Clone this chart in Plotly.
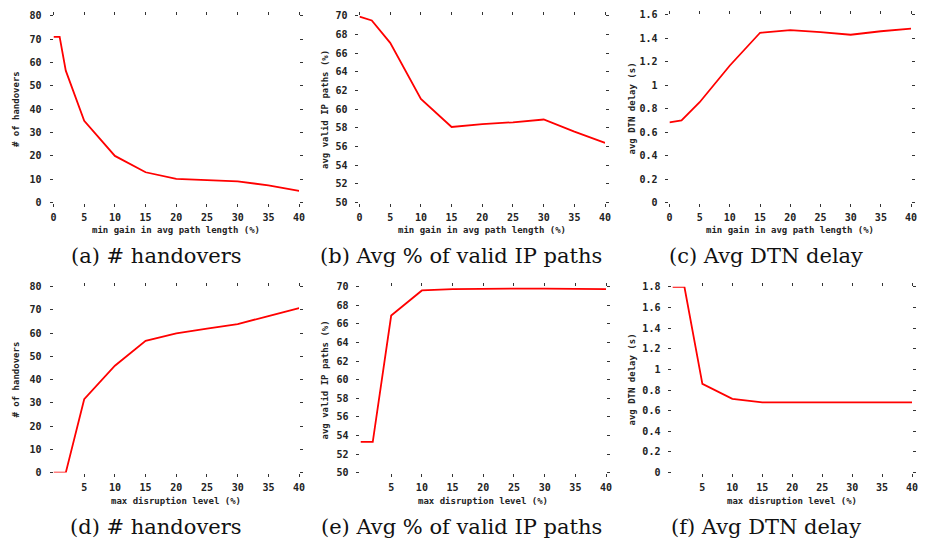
import plotly.graph_objects as go

# ---- data ----
x_gain = [0, 1, 2, 5, 10, 15, 20, 25, 30, 35, 40]
handovers_gain = [71, 71, 56.5, 35, 20, 13, 10.2, 9.5, 9.1, 7.4, 5]

x_gain_b = [0, 2, 5, 10, 15, 20, 25, 30, 35, 40]
valid_ip_gain = [69.9, 69.5, 67.1, 61.1, 58.1, 58.4, 58.6, 58.9, 57.6, 56.4]
dtn_delay_gain = [0.684, 0.70, 0.855, 1.168, 1.447, 1.47, 1.452, 1.43, 1.46, 1.483]

x_disr = [0, 2, 5, 10, 15, 20, 25, 30, 35, 40]
handovers_disr = [0, 0, 31.6, 46, 56.7, 59.9, 62, 63.9, 67.4, 70.8]
valid_ip_disr = [53.3, 53.3, 66.9, 69.6, 69.75, 69.8, 69.8, 69.8, 69.8, 69.75]
dtn_delay_disr = [1.8, 1.8, 0.859, 0.714, 0.68, 0.68, 0.68, 0.68, 0.68, 0.68]

xticks_top = [0, 5, 10, 15, 20, 25, 30, 35, 40]
xticks_bottom = [5, 10, 15, 20, 25, 30, 35, 40]

yt_hand = [0, 10, 20, 30, 40, 50, 60, 70, 80]
yt_ip = [50, 52, 54, 56, 58, 60, 62, 64, 66, 68, 70]
yt_dtn_top = [0, 0.2, 0.4, 0.6, 0.8, 1, 1.2, 1.4, 1.6]
yt_dtn_bot = [0, 0.2, 0.4, 0.6, 0.8, 1, 1.2, 1.4, 1.6, 1.8]

xtitle_top = "min gain in avg path length (%)"
xtitle_bot = "max disruption level (%)"
ytitles = ["# of handovers", "avg valid IP paths (%)", "avg DTN delay (s)"]
captions = ["(a) # handovers", "(b) Avg % of valid IP paths", "(c) Avg DTN delay",
            "(d) # handovers", "(e) Avg % of valid IP paths", "(f) Avg DTN delay"]

W, H = 925, 551

def px(x):
    return x / W

def py(y):
    return 1 - y / H

# pixel boxes: (x0, x1, ytop, ybottom)
boxes = [
    (51, 299, 10, 201),
    (360, 608, 10, 201),
    (673, 917, 9, 201),
    (51, 299, 287, 477),
    (361, 609, 287, 477),
    (676, 918, 287, 477),
]
series = [
    (x_gain, handovers_gain, yt_hand, [0, 80], xticks_top),
    (x_gain_b, valid_ip_gain, yt_ip, [50, 70], xticks_top),
    (x_gain_b, dtn_delay_gain, yt_dtn_top, [0, 1.6], xticks_top),
    (x_disr, handovers_disr, yt_hand, [0, 80], xticks_bottom),
    (x_disr, valid_ip_disr, yt_ip, [50, 70], xticks_bottom),
    (x_disr, dtn_delay_disr, yt_dtn_bot, [0, 1.8], xticks_bottom),
]

tickfont = dict(family="DejaVu Sans Mono", size=10, color="#222222", weight="bold")
titlefont = dict(family="DejaVu Sans Mono", size=9, color="#222222", weight="bold")
capfont = dict(family="DejaVu Serif", size=21, color="#111111")

fig = go.Figure()
layout = dict(
    width=W, height=H, margin=dict(l=0, r=0, t=0, b=0),
    paper_bgcolor="white", plot_bgcolor="white", showlegend=False,
    hovermode=False,
)
annotations = []

for i, (box, (xs, ys, yt, yr, xt)) in enumerate(zip(boxes, series)):
    n = i + 1
    xa = "x" if n == 1 else f"x{n}"
    ya = "y" if n == 1 else f"y{n}"
    fig.add_trace(go.Scatter(x=xs, y=ys, mode="lines", xaxis=xa, yaxis=ya,
                             line=dict(color="#ff0000", width=1.8)))
    x0, x1, yt0, yb0 = box
    layout["xaxis" if n == 1 else f"xaxis{n}"] = dict(
        domain=[px(x0), px(x1)], anchor=ya, range=[0, 40],
        tickvals=xt, ticktext=[str(v) for v in xt],
        ticks="outside", ticklen=3, tickcolor="#333333", mirror="ticks",
        showline=False, showgrid=False, zeroline=False,
        tickfont=tickfont, ticklabelstandoff=2,
    )
    layout["yaxis" if n == 1 else f"yaxis{n}"] = dict(
        domain=[py(yb0), py(yt0)], anchor=xa, range=yr,
        tickvals=yt, ticktext=[("%g" % v) for v in yt],
        ticks="outside", ticklen=3, tickcolor="#333333", mirror="ticks",
        showline=False, showgrid=False, zeroline=False,
        tickfont=tickfont, ticklabelstandoff=6,
    )
    col = i % 3
    row = i // 3
    ytx = [13, 325, 635][col]
    annotations.append(dict(
        text=ytitles[col], x=px(ytx), y=py((yt0 + yb0) / 2), xref="paper", yref="paper",
        textangle=-90, showarrow=False, font=titlefont, xanchor="center", yanchor="middle"))
    annotations.append(dict(
        text=xtitle_top if row == 0 else xtitle_bot,
        x=px((x0 + x1) / 2), y=py(229 if row == 0 else 506), xref="paper", yref="paper",
        showarrow=False, font=titlefont, xanchor="center", yanchor="middle"))
    capx = [155, 463, 771][col]
    annotations.append(dict(
        text=captions[i], x=px(capx), y=py(256 if row == 0 else 533),
        xref="paper", yref="paper", showarrow=False, font=capfont,
        xanchor="center", yanchor="middle"))

layout["annotations"] = annotations
fig.update_layout(**layout)
fig.write_html(
    "out.html",
    config={"displayModeBar": False, "staticPlot": True},
    post_script="document.body.style.margin='0';document.body.style.overflow='hidden';",
)
